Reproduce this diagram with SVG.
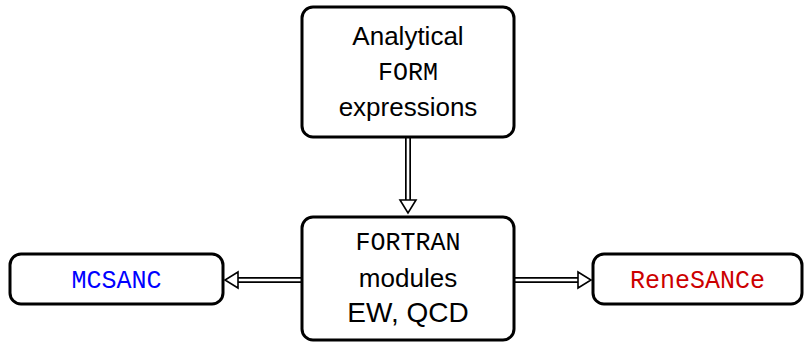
<svg xmlns="http://www.w3.org/2000/svg" width="804" height="342" viewBox="0 0 804 342">
<defs>
<style>
.box{fill:#fff;stroke:#000;stroke-width:3}
.sans{font-family:"Liberation Sans",Arial,sans-serif;font-size:26px;fill:#000;text-anchor:middle}
.mono{font-family:"Liberation Mono","Courier New",monospace;font-size:25px;text-anchor:middle}
.outer{fill:none;stroke:#000;stroke-width:6}
.inner{fill:none;stroke:#fff;stroke-width:2.6}
.head{fill:#fff;stroke:#000;stroke-width:1.6;stroke-linejoin:miter}
</style>
</defs>
<g id="connectors">
<path class="outer" d="M408 137 V202"/>
<path class="inner" d="M408 135 V204"/>
<path class="head" d="M400 200 L416 200 L408 213 Z"/>
<path class="outer" d="M302 280 H236"/>
<path class="inner" d="M304 280 H234"/>
<path class="head" d="M238 272 L238 288 L225 280 Z"/>
<path class="outer" d="M514 280 H580"/>
<path class="inner" d="M512 280 H582"/>
<path class="head" d="M578 272 L578 288 L591 280 Z"/>
</g>
<g id="form">
<rect class="box" x="302" y="7" width="212" height="130" rx="11"/>
<text class="sans" x="408" y="45" font-size="27">Analytical</text>
<text class="mono" x="408" y="80" font-size="24">FORM</text>
<text class="sans" x="408" y="116">expressions</text>
</g>
<g id="fortran">
<rect class="box" x="302" y="217" width="212" height="123" rx="11"/>
<text class="mono" x="408" y="250">FORTRAN</text>
<text class="sans" x="408" y="287">modules</text>
<text class="sans" x="408" y="322" style="font-size:28px">EW, QCD</text>
</g>
<g id="mcsanc">
<rect class="box" x="10" y="254" width="213" height="50" rx="11"/>
<text class="mono" x="116.5" y="288" fill="#0000ff">MCSANC</text>
</g>
<g id="renesance">
<rect class="box" x="593" y="254" width="209" height="50" rx="11"/>
<text class="mono" x="697.5" y="288" fill="#cc0000">ReneSANCe</text>
</g>
</svg>
